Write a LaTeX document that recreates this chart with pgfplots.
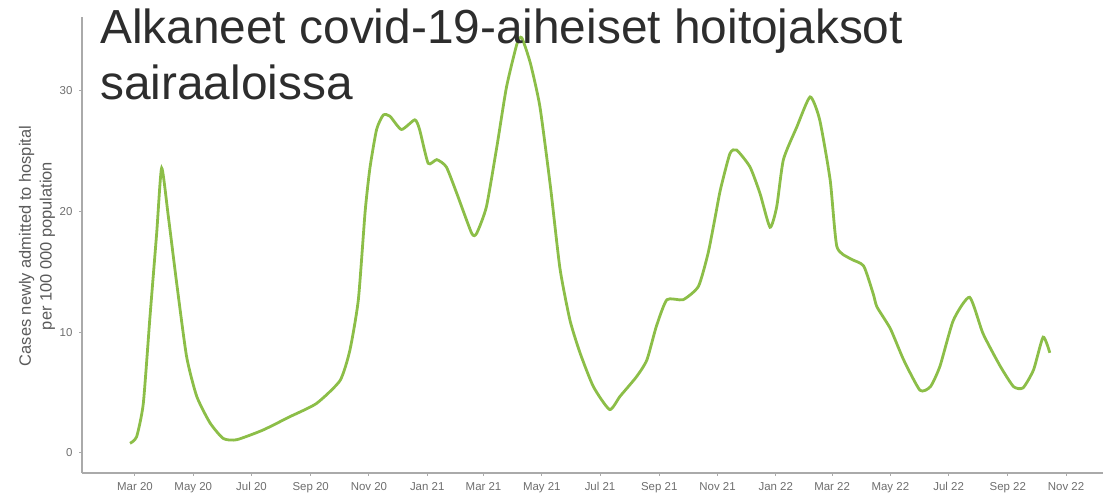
\documentclass[border=0pt]{standalone}
\usepackage{fontspec}
\setmainfont{Liberation Sans}
\usepackage{pgfplots}
\pgfplotsset{compat=1.18}
\definecolor{linegreen}{RGB}{140,190,72}
\definecolor{axgray}{RGB}{170,170,170}
\definecolor{ticklab}{RGB}{110,110,110}
\definecolor{titlecol}{RGB}{45,45,45}
\definecolor{labcol}{RGB}{90,90,90}
\begin{document}
\begin{tikzpicture}[x=1bp,y=1bp]
\useasboundingbox (-82,-29) rectangle (1025,473);
\begin{axis}[
  at={(0,0)}, anchor=south west, scale only axis,
  width=1021bp, height=456bp,
  xmin=-55.5, xmax=1013.7, ymin=-1.657, ymax=36.12,
  axis x line=bottom, axis y line=left,
  axis line style={-, draw=axgray, line width=1.2bp},
  tick align=outside, major tick length=3bp,
  tick style={draw=axgray, line width=1bp},
  xtick={0,61,122,184,245,306,365,426,487,549,610,671,730,791,852,914,975},
  xticklabels={Mar 20,May 20,Jul 20,Sep 20,Nov 20,Jan 21,Mar 21,May 21,Jul 21,Sep 21,Nov 21,Jan 22,Mar 22,May 22,Jul 22,Sep 22,Nov 22},
  ytick={0,10,20,30},
  /pgf/number format/assume math mode=true,
  tick label style={font=\fontsize{11.5}{13}\selectfont, text=ticklab},
  xticklabel style={yshift=-3bp},
  yticklabel style={xshift=-3bp},
  clip=false,
]
\addplot[color=linegreen, line width=2.8bp, smooth, tension=0.35] coordinates {
(-5.2,0.8) (1.7,1.35) (8.7,4.1) (15.7,11.3) (22.7,18.2) (27.9,23.6)
(34.9,19.6) (43.6,14.1) (54,8.0) (64.6,4.7) (78.5,2.5) (92.5,1.2)
(106.5,1.1) (134,1.9) (162,3.0) (190,4.1) (214.7,6.0) (225,8.5)
(233.9,12.7) (241,20.0) (246,23.6) (253,26.8) (260,28.0) (267,27.9)
(279,26.8) (293,27.6) (298,26.8) (307,24.0) (316,24.3) (326,23.7)
(337,21.5) (352.6,18.2) (357.8,18.2) (368,20.4) (379,25.4) (389,30.3)
(400,33.9) (405,34.4) (414,32.3) (424,28.7) (435,22.1) (445,15.3)
(455.5,11.0) (466,8.3) (480,5.5) (497,3.6) (508,4.7) (525,6.3)
(536,7.7) (546,10.5) (557,12.7) (574,12.7) (590,13.8) (600,16.5)
(607,19.3) (613,21.8) (623,24.8) (630,25.1) (644,23.7) (654.5,21.5)
(665,18.7) (672,20.4) (679,24.3) (693,27.0) (707,29.5) (717,27.6)
(728,22.6) (735,17.1) (749,16.1) (763,15.5) (773,13.2) (777,12.1)
(791,10.3) (805,7.7) (822,5.2) (833,5.5) (843,7.2) (857,11.0)
(874,12.9) (888,9.9) (906,7.2) (920,5.5) (930,5.4) (941,6.9)
(951,9.6) (958,8.3)
};
\end{axis}
\node[rotate=90, align=center, text=labcol, font=\fontsize{16.5}{21}\selectfont] at (-45,227) {Cases newly admitted to hospital\\per 100 000 population};
\node[anchor=base west, inner sep=0pt, text=titlecol, font=\fontsize{48}{56}\selectfont] at (18,429) {Alkaneet covid-19-aiheiset hoitojaksot};
\node[anchor=base west, inner sep=0pt, text=titlecol, font=\fontsize{48}{56}\selectfont] at (18,373) {sairaaloissa};
\end{tikzpicture}
\end{document}
